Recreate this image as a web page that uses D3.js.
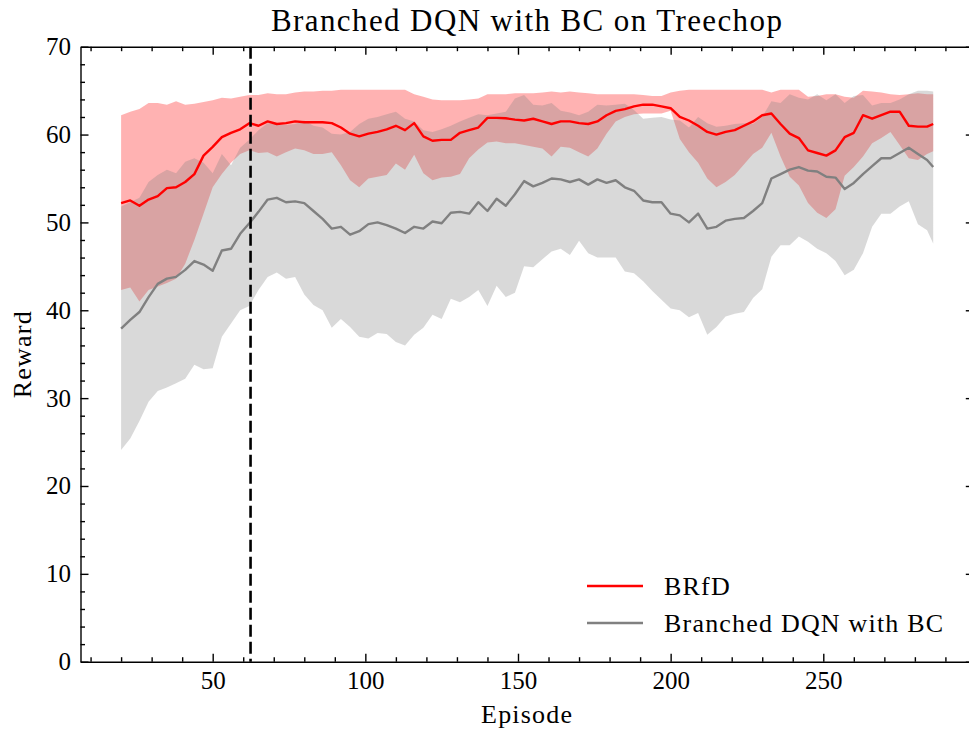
<!DOCTYPE html>
<meta charset="utf-8">
<script src="https://cdn.jsdelivr.net/npm/d3@7"></script>
<style>

body { margin: 0; background: #fff; }
svg { display: block; }

text {
  font-family: "Liberation Serif", "DejaVu Serif", serif;
  fill: #000;
}

.axis .domain, .axis .tick line {
  stroke: #000;
  stroke-width: 1.4px;
}

.axis text {
  font-size: 25px;
}

.band { stroke: none; }

.line {
  fill: none;
  stroke-width: 2.4px;
  stroke-linejoin: round;
}

.label { letter-spacing: 1.2px; }

</style>

<svg width="969" height="730"></svg>
<script>

// episode index for every sample
var episodes = [20,23,26,29,32,35,38,41,44,47, 50,53,56,59,62,65,68,71,74,77,
  80,83,86,89,92,95,98,101,104,107, 110,113,116,119,122,125,128,131,134,137,
  140,143,146,149,152,155,158,161,164,167, 170,173,176,179,182,185,188,191,194,197,
  200,203,206,209,212,215,218,221,224,227, 230,233,236,239,242,245,248,251,254,257,
  260,263,266,269,272,275,278,281,284,286];

// BRfD (red)
var brfdMean = [52.2,52.5,51.9,52.6,53.0,53.9,54.0,54.6,55.5,57.6,
  58.6,59.7,60.2,60.6,61.3,61.0,61.5,61.2,61.3,61.5,
  61.4,61.4,61.4,61.3,60.8,60.1,59.8,60.1,60.3,60.6,
  61.0,60.5,61.3,59.8,59.3,59.4,59.4,60.2,60.5,60.8,
  61.9,61.9,61.85,61.7,61.6,61.8,61.5,61.2,61.5,61.5,
  61.3,61.2,61.5,62.2,62.7,62.9,63.2,63.4,63.4,63.2,
  63.0,62.0,61.6,61.0,60.3,60.0,60.3,60.5,61.0,61.5,
  62.2,62.4,61.2,60.1,59.6,58.2,57.9,57.6,58.2,59.7,
  60.2,62.2,61.8,62.2,62.6,62.6,61.0,60.9,60.9,61.2];
var brfdUpper = [62.2,62.6,62.9,63.6,63.6,63.4,63.8,63.4,63.5,63.7,
  63.9,64.2,64.1,64.3,64.5,64.5,64.7,64.6,64.6,64.8,
  64.9,64.9,65.0,65.0,65.1,65.1,65.1,65.1,65.1,65.1,
  65.1,65.1,64.6,64.3,64.0,63.9,63.9,63.9,64.0,64.1,
  64.6,64.6,64.6,64.7,64.7,64.7,64.8,64.9,64.8,64.9,
  64.8,64.7,64.6,64.6,64.6,64.6,64.6,64.5,64.4,64.4,
  64.8,65.0,65.1,65.1,65.1,65.1,65.1,65.1,65.1,65.1,
  65.1,64.8,65.1,65.1,65.1,64.3,64.4,64.6,64.6,64.3,
  64.2,65.0,64.9,64.8,64.6,64.5,64.6,64.7,64.6,64.6];
var brfdLower = [42.3,42.6,41.0,42.3,42.7,43.1,43.6,45.3,48.0,51.0,
  54.0,55.5,56.8,57.8,58.2,57.9,58.0,57.5,58.0,58.4,
  58.2,57.8,57.8,58.0,56.5,54.8,54.0,55.0,55.2,55.4,
  56.7,56.0,57.7,55.6,54.8,55.1,55.2,55.5,57.3,58.3,
  59.1,59.2,59.0,59.0,58.8,58.6,58.4,57.5,58.6,58.5,
  58.0,57.5,58.4,60.1,61.5,62.0,62.3,62.4,62.4,62.4,
  62.7,59.5,58.0,56.8,55.0,54.0,54.6,55.4,56.6,57.8,
  58.5,60.2,57.5,55.2,54.2,52.2,51.1,50.5,51.5,55.3,
  56.3,57.5,59.0,59.6,60.3,58.8,57.3,57.1,57.8,58.1];

// Branched DQN with BC (gray)
var bcMean = [37.9,38.9,39.8,41.5,43.0,43.6,43.8,44.6,45.6,45.2,
  44.5,46.8,47.0,48.7,49.9,51.2,52.6,52.8,52.3,52.4,
  52.2,51.3,50.4,49.3,49.5,48.6,49.0,49.8,50.0,49.7,
  49.3,48.8,49.5,49.3,50.1,49.9,51.1,51.2,51.0,52.3,
  51.3,52.7,51.9,53.2,54.7,54.1,54.5,55.0,54.9,54.6,
  54.9,54.3,54.9,54.5,54.8,54.0,53.6,52.5,52.3,52.3,
  51.0,50.8,50.0,51.0,49.3,49.5,50.2,50.4,50.5,51.3,
  52.2,55.0,55.5,56.0,56.3,55.9,55.8,55.2,55.1,53.8,
  54.5,55.5,56.4,57.3,57.3,57.9,58.5,57.8,57.1,56.3];
var bcUpper = [51.8,52.3,52.8,54.6,55.4,56.0,55.6,56.9,57.3,56.8,
  55.6,57.8,56.5,58.5,59.4,60.5,61.3,61.2,61.1,61.2,
  61.6,61.0,60.8,60.1,60.0,60.3,61.2,61.8,62.0,62.3,
  62.6,61.8,61.5,60.5,60.3,60.6,61.0,61.5,61.9,62.3,
  62.2,62.4,62.6,64.1,64.5,63.4,63.3,63.6,62.7,62.5,
  62.2,62.6,63.4,63.3,63.4,63.5,62.8,61.8,61.9,62.0,
  61.7,61.6,60.8,62.0,61.3,60.9,61.0,61.2,61.3,61.2,
  62.0,63.8,63.6,64.6,64.2,64.0,64.6,63.9,64.6,63.6,
  64.4,64.5,63.3,63.6,63.6,64.0,64.6,65.0,65.0,64.9];
var bcLower = [24.1,25.4,27.4,29.6,30.8,31.2,31.7,32.2,33.8,33.3,
  33.4,37.0,38.5,40.0,40.5,42.3,43.8,44.3,43.6,43.8,
  41.8,40.6,40.0,38.0,39.0,38.1,37.0,36.8,37.4,37.3,
  36.4,36.0,37.2,38.0,39.5,39.0,41.3,40.9,41.5,42.3,
  40.5,42.8,41.5,42.0,45.0,44.9,45.8,46.7,47.0,46.3,
  47.9,46.5,46.0,46.0,46.0,44.4,44.2,43.3,42.2,41.2,
  40.2,40.0,39.2,39.7,37.2,38.1,39.3,39.6,39.8,41.4,
  42.4,46.1,47.4,47.4,48.4,47.8,47.0,46.5,45.6,44.0,
  44.6,46.5,49.5,51.0,51.0,51.8,52.4,49.8,49.1,47.6];

var demoEnd = 62.4;   // dashed marker
var xTicks = [50, 100, 150, 200, 250];
var yTicks = [0, 10, 20, 30, 40, 50, 60, 70];
var seriesNames = ["BRfD", "Branched DQN with BC"];
var seriesColors = ["#ff0000", "#808080"];

var svg = d3.select("svg");
// plot frame in pixels (right spine falls just outside the picture)
var pLeft = 80.5, pRight = 973.8, pTop = 46.7, pBottom = 661.7;

var x = d3.scaleLinear().domain([6.7, 299.3]).range([pLeft, pRight]);
var y = d3.scaleLinear().domain([0, 70]).range([pBottom, pTop]);

var xMinor = d3.range(10, 300, 10).filter(function(v) { return v % 50 != 0; });
var yMinor = d3.range(0, 71, 2).filter(function(v) { return v % 10 != 0; });

function rows(mean, lo, hi) {
  return episodes.map(function(e, i) { return {x: e, m: mean[i], lo: lo[i], hi: hi[i]}; });
}
var red = rows(brfdMean, brfdLower, brfdUpper);
var gray = rows(bcMean, bcLower, bcUpper);

var area = d3.area()
    .x(function(d) { return x(d.x); })
    .y0(function(d) { return y(d.lo); })
    .y1(function(d) { return y(d.hi); });
var line = d3.line()
    .x(function(d) { return x(d.x); })
    .y(function(d) { return y(d.m); });

svg.append("path").datum(red).attr("class", "band")
    .attr("fill", seriesColors[0]).attr("fill-opacity", 0.3).attr("d", area);
svg.append("path").datum(gray).attr("class", "band")
    .attr("fill", seriesColors[1]).attr("fill-opacity", 0.3).attr("d", area);
svg.append("path").datum(red).attr("class", "line")
    .attr("stroke", seriesColors[0]).attr("d", line);
svg.append("path").datum(gray).attr("class", "line")
    .attr("stroke", seriesColors[1]).attr("d", line);

// dashed vertical marker
svg.append("line")
    .attr("x1", x(demoEnd)).attr("x2", x(demoEnd))
    .attr("y1", y(70)).attr("y2", y(0))
    .attr("stroke", "#000").attr("stroke-width", 2.6)
    .attr("stroke-dasharray", "12,5");

// axes: ticks point inwards on all four sides
function styleAxis(g) {
  g.attr("class", "axis").attr("font-family", null).attr("font-size", null);
}

svg.append("g").attr("transform", "translate(0," + pBottom + ")")
    .call(d3.axisBottom(x).tickValues(xTicks).tickSize(-8).tickSizeOuter(0).tickPadding(10))
    .call(styleAxis);
svg.append("g").attr("transform", "translate(0," + pBottom + ")")
    .call(d3.axisBottom(x).tickValues(xMinor).tickSize(-4.5).tickFormat(""))
    .call(styleAxis).select(".domain").remove();
svg.append("g").attr("transform", "translate(0," + pTop + ")")
    .call(d3.axisTop(x).tickValues(xTicks).tickSize(-8).tickSizeOuter(0).tickFormat(""))
    .call(styleAxis);
svg.append("g").attr("transform", "translate(0," + pTop + ")")
    .call(d3.axisTop(x).tickValues(xMinor).tickSize(-4.5).tickFormat(""))
    .call(styleAxis).select(".domain").remove();

svg.append("g").attr("transform", "translate(" + pLeft + ",0)")
    .call(d3.axisLeft(y).tickValues(yTicks).tickSize(-8).tickSizeOuter(0).tickPadding(9.5))
    .call(styleAxis);
svg.append("g").attr("transform", "translate(" + pLeft + ",0)")
    .call(d3.axisLeft(y).tickValues(yMinor).tickSize(-4.5).tickFormat(""))
    .call(styleAxis).select(".domain").remove();
svg.append("g").attr("transform", "translate(" + pRight + ",0)")
    .call(d3.axisRight(y).tickValues(yTicks).tickSize(-8).tickSizeOuter(0).tickFormat(""))
    .call(styleAxis);
svg.append("g").attr("transform", "translate(" + pRight + ",0)")
    .call(d3.axisRight(y).tickValues(yMinor).tickSize(-4.5).tickFormat(""))
    .call(styleAxis).select(".domain").remove();

// labels
svg.append("text").attr("class", "label")
    .attr("x", (pLeft + pRight) / 2).attr("y", 31)
    .attr("text-anchor", "middle").attr("font-size", 31)
    .style("letter-spacing", "1.4px")
    .text("Branched DQN with BC on Treechop");
svg.append("text").attr("class", "label")
    .attr("x", (pLeft + pRight) / 2).attr("y", 723)
    .attr("text-anchor", "middle").attr("font-size", 26)
    .text("Episode");
svg.append("text").attr("class", "label")
    .attr("transform", "translate(31," + (pTop + pBottom) / 2 + ") rotate(-90)")
    .attr("text-anchor", "middle").attr("font-size", 26)
    .text("Reward");

// legend
var legend = svg.append("g").selectAll("g")
    .data(seriesNames)
  .enter().append("g")
    .attr("transform", function(d, i) { return "translate(587," + (586 + i * 37) + ")"; });
legend.append("line")
    .attr("x1", 0).attr("x2", 56)
    .attr("stroke", function(d, i) { return seriesColors[i]; })
    .attr("stroke-width", 2.4);
legend.append("text").attr("class", "label")
    .attr("x", 77).attr("dy", "0.34em")
    .attr("font-size", 26)
    .text(function(d) { return d; });

</script>
